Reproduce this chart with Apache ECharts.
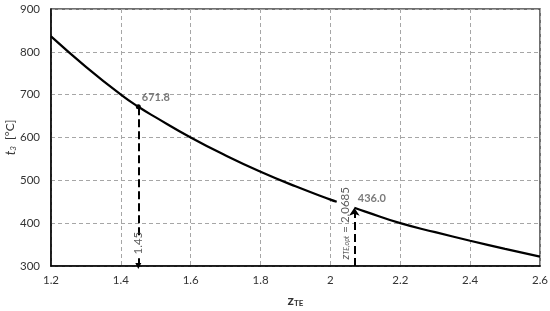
<!DOCTYPE html>
<html>
<head>
<meta charset="utf-8">
<script src="https://cdn.jsdelivr.net/npm/echarts@6/dist/echarts.min.js"></script>
<style>
  html, body { margin: 0; padding: 0; background: #fff; }
  #chart { width: 550px; height: 311px; }
</style>
</head>
<body>
<div id="chart"></div>
<script>
// curve before the optimum label gap
var zLeft = [1.2, 1.3, 1.4, 1.45, 1.5, 1.6, 1.7, 1.8, 1.9, 2.0, 2.018];
var tLeft = [836, 765, 700, 671.8, 647, 600, 558, 520, 486, 455, 450];
// curve after the optimum
var zRight = [2.0685, 2.1, 2.2, 2.3, 2.4, 2.5, 2.6];
var tRight = [436.0, 427, 400, 379, 359, 340, 322];
// marked points
var markZ = [1.45, 2.0685];
var markT = [671.8, 436.0];
var markText = ['1.45', '{i|z}{sub|TE,opt} = 2.0685'];
// break in the 1.45 guide where its label sits
var labelGap = [318, 372];

var xTicks = { min: 1.2, max: 2.6, interval: 0.2 };
var yTicks = { min: 300, max: 900, interval: 100 };

function pairs(xs, ys) {
    var out = [];
    for (var i = 0; i < xs.length; i++) out.push([xs[i], ys[i]]);
    return out;
}

var chart = echarts.init(document.getElementById('chart'));

var font = 'Lato, "Open Sans", sans-serif';
var gridLine = { show: true, lineStyle: { color: '#a6a6a6', type: [4, 3], width: 1 } };

var option = {
    animation: false,
    textStyle: { fontFamily: font },
    grid: { left: 51, right: 10, top: 9, bottom: 45, containLabel: false, outerBoundsMode: 'none',
        show: true, borderColor: '#404040', borderWidth: 1.5 },
    xAxis: {
        type: 'value',
        min: xTicks.min, max: xTicks.max, interval: xTicks.interval,
        axisLine: { lineStyle: { color: '#000', width: 1.5 } },
        axisTick: { show: false },
        axisLabel: { color: '#333', fontSize: 11.5, margin: 8, fontFamily: font,
            formatter: function (v) { return String(Math.round(v * 10) / 10); } },
        splitLine: gridLine,
        name: '{b|z}{s|TE}',
        nameLocation: 'middle',
        nameGap: 27,
        nameMoveOverlap: false,
        nameTextStyle: {
            rich: {
                b: { fontSize: 14, fontWeight: 'bold', color: '#333', fontFamily: font },
                s: { fontSize: 8, fontWeight: 'bold', color: '#333', fontFamily: font, padding: [6, 0, 0, 0] }
            }
        }
    },
    yAxis: {
        type: 'value',
        min: yTicks.min, max: yTicks.max, interval: yTicks.interval,
        axisLine: { show: true, lineStyle: { color: '#000', width: 1.5 } },
        axisTick: { show: false },
        axisLabel: { color: '#333', fontSize: 11.5, margin: 11, fontFamily: font },
        splitLine: gridLine,
        name: '{i|t}{s|3}  [°C]',
        nameLocation: 'middle',
        nameGap: 34,
        nameMoveOverlap: false,
        nameTextStyle: {
            color: '#333', fontSize: 12, fontFamily: font,
            rich: {
                i: { fontSize: 13, fontStyle: 'italic', color: '#333', fontFamily: font },
                s: { fontSize: 8, fontStyle: 'italic', color: '#333', fontFamily: font, padding: [5, 0, 0, 0] }
            }
        }
    },
    series: [
        {
            name: 'left', type: 'line', data: pairs(zLeft, tLeft), smooth: true,
            showSymbol: false, lineStyle: { color: '#000', width: 2.2 }
        },
        {
            name: 'right', type: 'line', data: pairs(zRight, tRight), smooth: true,
            showSymbol: false, lineStyle: { color: '#000', width: 2.2 }
        },
        {
            name: 'guides', type: 'line', data: [],
            markLine: {
                silent: true,
                lineStyle: { color: '#000', width: 2, type: [8, 4] },
                label: { show: false },
                data: [
                    [{ coord: [markZ[0], yTicks.min], symbol: 'triangle', symbolSize: 6 },
                     { coord: [markZ[0], labelGap[0]], symbol: 'none' }],
                    [{ coord: [markZ[0], labelGap[1]], symbol: 'none' },
                     { coord: [markZ[0], markT[0]], symbol: 'circle', symbolSize: 5 }],
                    [{ coord: [markZ[1], yTicks.min], symbol: 'none' },
                     { coord: [markZ[1], markT[1]], symbol: 'arrow', symbolSize: 8 }]
                ]
            }
        },
        {
            name: 'values', type: 'scatter', symbolSize: 1,
            itemStyle: { color: 'rgba(0,0,0,0)' },
            data: pairs(markZ, markT),
            label: {
                show: true, position: [4, -14], color: '#595959', fontSize: 11, fontWeight: 'bold',
                fontFamily: font,
                formatter: function (p) { return p.value[1].toFixed(1); }
            }
        },
        {
            name: 'vlabels', type: 'scatter', symbolSize: 1, zlevel: 1,
            itemStyle: { color: 'rgba(0,0,0,0)' },
            data: [
                { value: [markZ[0], yTicks.min], label: { position: [0, -9], verticalAlign: 'middle' } },
                { value: [markZ[1], yTicks.min], label: { position: [-3, -4], verticalAlign: 'bottom' } }
            ],
            label: {
                show: true, rotate: 90, align: 'left', color: '#333', fontSize: 11.5, fontFamily: font,
                padding: [0, 2],
                formatter: function (p) { return markText[p.dataIndex]; },
                rich: {
                    i: { fontStyle: 'italic', fontSize: 11.5, color: '#333', fontFamily: font },
                    sub: { fontStyle: 'italic', fontSize: 7, color: '#333', fontFamily: font, padding: [4, 0, 0, 0] }
                }
            }
        }
    ]
};
chart.setOption(option);
</script>
</body>
</html>
